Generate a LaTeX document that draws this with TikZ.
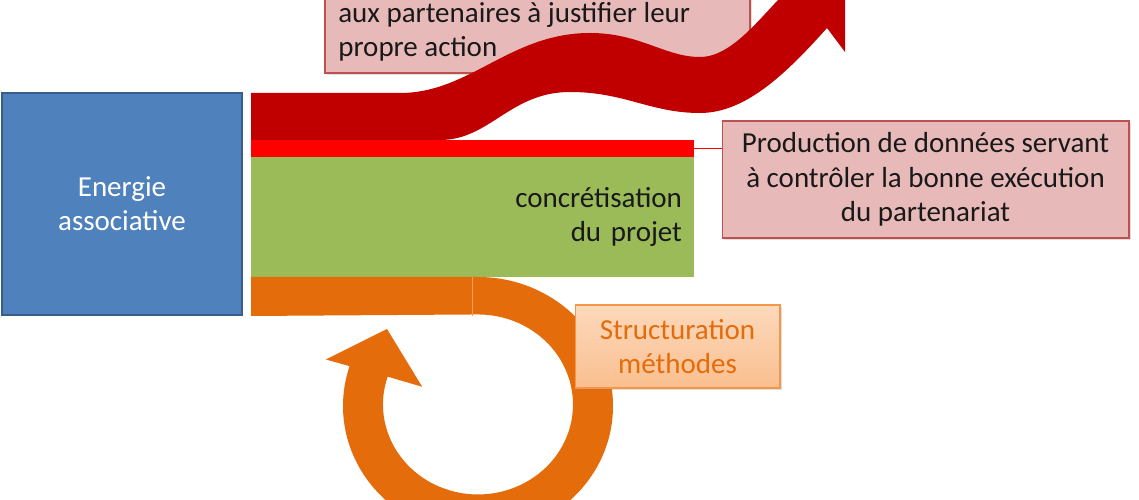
\documentclass[tikz,border=0pt]{standalone}
\usepackage{fontspec}
\setmainfont{Carlito}
\usetikzlibrary{calc,shadows}

\definecolor{energyblue}{HTML}{4F81BD}
\definecolor{energyline}{HTML}{385D8A}
\definecolor{darkred}{HTML}{C00000}
\definecolor{brightred}{HTML}{FF0000}
\definecolor{projgreen}{HTML}{9BBB59}
\definecolor{looporange}{HTML}{E46C0A}
\definecolor{notepink}{HTML}{E8B9B9}
\definecolor{noteline}{HTML}{C0504D}
\definecolor{methtop}{HTML}{FCD9BD}
\definecolor{methbottom}{HTML}{FABF8F}
\definecolor{methline}{HTML}{F79646}

\tikzset{
  bigtext/.style={font=\fontsize{16.5}{19.5}\selectfont},
  band/.style={inner sep=0pt, minimum width=8.86cm},
  notebox/.style={fill=notepink, draw=noteline, line width=0.6pt,
    drop shadow={opacity=0.25, shadow xshift=1pt, shadow yshift=-1pt}},
  methbox/.style={top color=methtop, bottom color=methbottom, draw=methline,
    line width=0.6pt, text=looporange,
    drop shadow={opacity=0.25, shadow xshift=1pt, shadow yshift=-1pt}}
}

\begin{document}
\begin{tikzpicture}[x=0.02cm, y=0.02cm]
  \useasboundingbox (0,0) rectangle (1139,500);
  \clip (0,0) rectangle (1139,500);

  \node[fill=energyblue, draw=energyline, line width=1pt, minimum width=4.8cm,
    minimum height=4.44cm, align=center, text=white, bigtext] (Energie) at (122,296)
    {Energie\\associative};

  \draw[notebox] (325,427) rectangle (750,560);
  \node[anchor=south west, inner sep=0pt, align=left, text=black!90, bigtext] (Action)
    at (338,438) {aux partenaires à justifier leur\\propre action};

  \fill[darkred] (251,407) -- (400,407)
    .. controls (470,407) and (510,467) .. (590,467)
    .. controls (640,467) and (665,443) .. (700,443)
    .. controls (735,443) and (765,490) .. (796,518)
    -- (779,543) -- (845,517) -- (845,448) -- (827,472)
    .. controls (785,425) and (745,387) .. (700,387)
    .. controls (650,387) and (625,408) .. (570,408)
    .. controls (510,408) and (490,360) .. (440,360)
    -- (251,360) -- cycle;

  \node[band, fill=brightred, minimum height=0.34cm] (Donnees) at (472.5,351.5) {};
  \node[band, fill=projgreen, minimum height=2.4cm, inner xsep=0.24cm,
    text width=8.38cm, align=right, text=black!90, bigtext] (Projet) at (472.5,283)
    {concrétisation\\du projet};

  \coordinate (RingC) at (478,94);
  \fill[looporange] (251,223) -- (478,223)
    arc[start angle=90, end angle=-198, x radius=135, y radius=129]
    -- ($(RingC)+(163:159)$) -- ($(RingC)+(-91,77)$)
    -- ($(RingC)+(161:59)$) -- ($(RingC)+(162:95)$)
    arc[start angle=-198, end angle=90, x radius=95, y radius=90]
    -- (251,184) -- cycle;
  \draw[looporange!65!white, line width=0.3pt] (472,184) -- (472,223);

  \node[notebox, minimum width=8.14cm, minimum height=2.34cm, align=center,
    text=black!90, bigtext] (Production) at (925.5,320.5)
    {Production de données servant\\à contrôler la bonne exécution\\du partenariat};
  \node[methbox, minimum width=4.1cm, minimum height=1.66cm, align=center, bigtext]
    (Methodes) at (677.5,153.5) {Structuration\\méthodes};

  \draw[brightred, line width=0.6pt] (Donnees.east) -- (Donnees.east -| Production.west);
\end{tikzpicture}
\end{document}
